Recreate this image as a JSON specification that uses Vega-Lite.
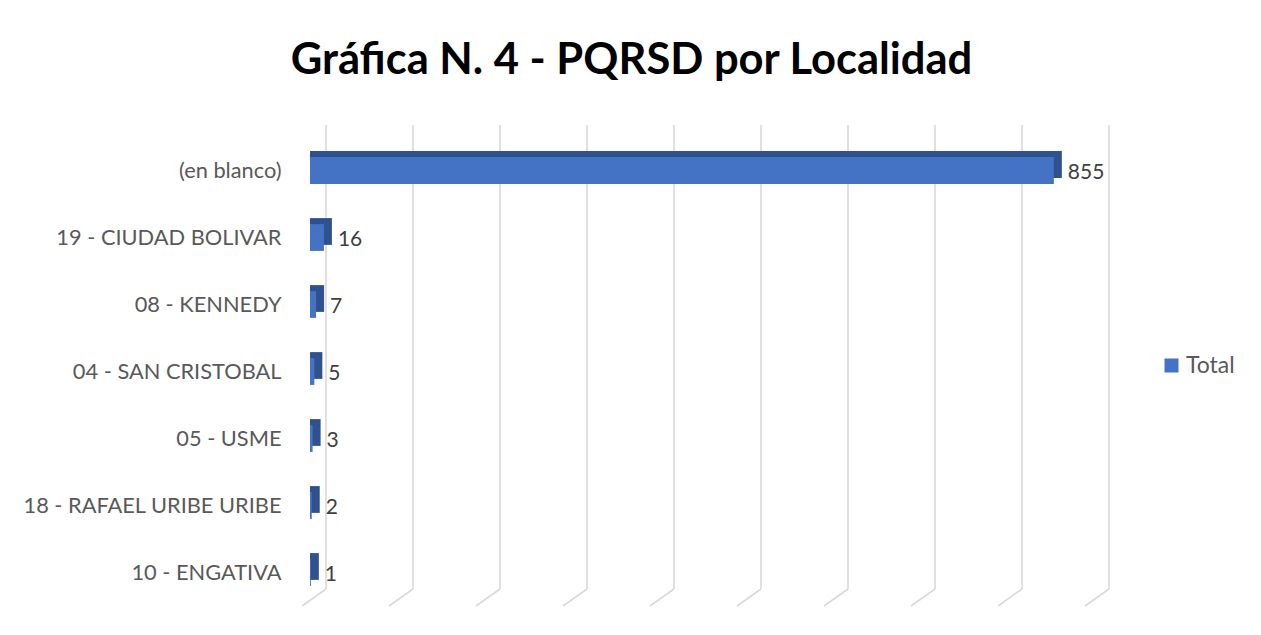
{
  "$schema": "https://vega.github.io/schema/vega-lite/v6.json",
  "autosize": {"type": "none"},
  "width": 783,
  "height": 469,
  "padding": {"left": 310, "top": 137, "right": 168, "bottom": 29},
  "background": "white",
  "config": {"view": {"stroke": null}, "font": "Lato"},
  "title": {
    "text": "Gráfica N. 4 - PQRSD por Localidad",
    "font": "Lato",
    "fontSize": 43.5,
    "fontWeight": "bold",
    "color": "#000000",
    "anchor": "middle",
    "dx": -70,
    "offset": 41
  },
  "datasets": {
    "loc": [
      {"localidad": "(en blanco)", "total": 855},
      {"localidad": "19 - CIUDAD BOLIVAR", "total": 16},
      {"localidad": "08 - KENNEDY", "total": 7},
      {"localidad": "04 - SAN CRISTOBAL", "total": 5},
      {"localidad": "05 - USME", "total": 3},
      {"localidad": "18 - RAFAEL URIBE URIBE", "total": 2},
      {"localidad": "10 - ENGATIVA", "total": 1}
    ],
    "grid": [
      {"v": 0}, {"v": 100}, {"v": 200}, {"v": 300}, {"v": 400},
      {"v": 500}, {"v": 600}, {"v": 700}, {"v": 800}, {"v": 900}
    ]
  },
  "resolve": {"scale": {"y": "independent"}},
  "layer": [
    {
      "data": {"name": "grid"},
      "layer": [
        {
          "mark": {"type": "rule", "color": "#d9d9d9", "strokeWidth": 1.6, "xOffset": 16, "yOffset": -17, "y2Offset": -12},
          "encoding": {
            "x": {"field": "v", "type": "quantitative", "scale": {"domain": [0, 900], "nice": false}, "axis": null},
            "y": {"datum": 0, "type": "quantitative", "scale": {"domain": [0, 1]}, "axis": null},
            "y2": {"datum": 1}
          }
        },
        {
          "mark": {"type": "rule", "color": "#d9d9d9", "strokeWidth": 1.6, "xOffset": 16, "x2Offset": -8, "yOffset": -17, "y2Offset": 0},
          "encoding": {
            "x": {"field": "v", "type": "quantitative", "axis": null},
            "x2": {"field": "v"},
            "y": {"datum": 0, "type": "quantitative", "scale": {"domain": [0, 1]}, "axis": null},
            "y2": {"datum": 0}
          }
        }
      ]
    },
    {
      "data": {"name": "loc"},
      "encoding": {
        "y": {
          "field": "localidad",
          "type": "nominal",
          "sort": null,
          "scale": {"paddingInner": 0.6, "paddingOuter": 0.3},
          "axis": {
            "title": null,
            "domain": false,
            "ticks": false,
            "grid": false,
            "labelPadding": 29,
            "labelFont": "Lato",
            "labelFontSize": 21.8,
            "labelColor": "#595959",
            "labelLimit": 400
          }
        }
      },
      "layer": [
        {
          "mark": {"type": "bar", "color": "#2f528f", "xOffset": 8, "yOffset": -6},
          "encoding": {
            "x": {"field": "total", "type": "quantitative", "axis": null},
            "x2": {"datum": 0}
          }
        },
        {
          "mark": {"type": "bar"},
          "encoding": {
            "x": {"field": "total", "type": "quantitative", "axis": null},
            "x2": {"datum": 0},
            "color": {
              "datum": "Total",
              "type": "nominal",
              "scale": {"range": ["#4472c4"]},
              "legend": {
                "title": null,
                "orient": "none",
                "legendX": 850,
                "legendY": 217,
                "padding": 0,
                "symbolType": "square",
                "symbolSize": 196,
                "symbolStrokeWidth": 0,
                "labelFont": "Lato",
                "labelFontSize": 23,
                "labelColor": "#595959",
                "labelOffset": 3
              }
            }
          }
        },
        {
          "mark": {"type": "text", "align": "left", "baseline": "middle", "dx": 14, "dy": 2, "fontSize": 21, "font": "Lato", "color": "#404040"},
          "encoding": {
            "x": {"field": "total", "type": "quantitative", "axis": null},
            "text": {"field": "total", "type": "quantitative"}
          }
        }
      ]
    }
  ]
}
